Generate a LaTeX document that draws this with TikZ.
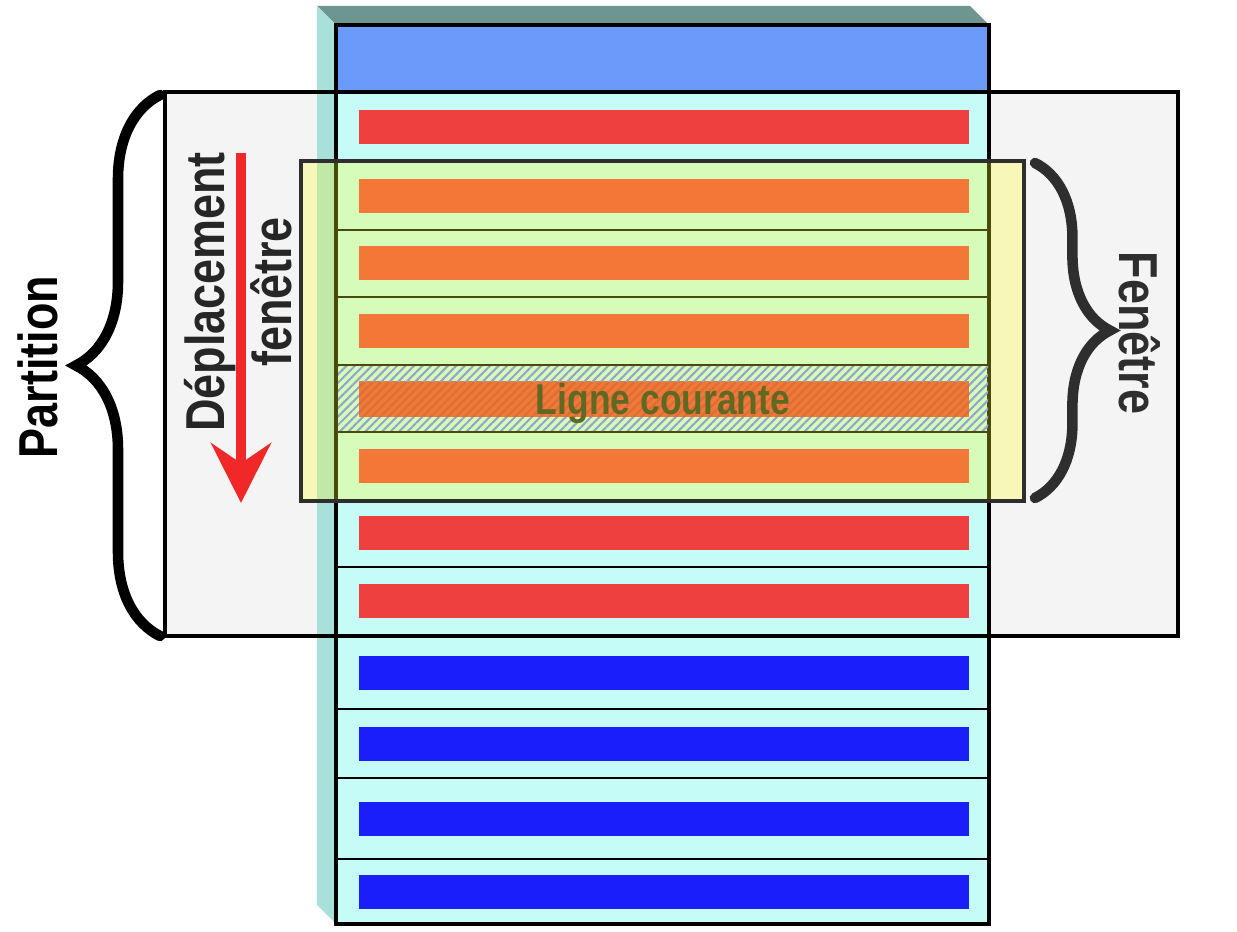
\documentclass[tikz,border=0pt]{standalone}
\usepackage{fontspec}
\setmainfont{Liberation Sans}
\newfontfamily\narrowsf[FakeStretch=0.82]{Liberation Sans}
\usetikzlibrary{arrows.meta,decorations.pathreplacing,patterns.meta}
\definecolor{sidecol}{RGB}{168,224,218}
\definecolor{topcol}{RGB}{110,150,144}
\definecolor{rowcol}{RGB}{198,252,247}
\definecolor{headcol}{RGB}{106,154,250}
\definecolor{redbar}{RGB}{239,64,64}
\definecolor{bluebar}{RGB}{26,30,250}
\definecolor{partcol}{RGB}{244,244,244}
\definecolor{wincol}{RGB}{255,255,36}
\definecolor{winedge}{RGB}{46,46,46}
\definecolor{orangebar}{RGB}{240,120,56}
\definecolor{hatchcol}{RGB}{146,166,200}
\definecolor{curtext}{RGB}{95,105,35}
\definecolor{arrowred}{RGB}{240,40,40}
\begin{document}
\begin{tikzpicture}[x=0.1mm,y=-0.1mm,
  biglabel/.style={font=\narrowsf\bfseries\fontsize{15.6}{19}\selectfont},
  bracket/.style={decorate,line width=3pt,line cap=round,decoration={brace,amplitude=#1}},
  hatching/.style={pattern={Lines[angle=45,distance=1.7pt,line width=0.6pt]},pattern color=#1}]
  \useasboundingbox (0,0) rectangle (1237,932);
  % partition background
  \fill[partcol] (165,92) rectangle (1178,636);
  % 3d faces of the table
  \fill[topcol] (317,6) -- (970,6) -- (989,25) -- (336,25) -- cycle;
  \fill[sidecol] (317,6) -- (336,25) -- (336,924) -- (317,905) -- cycle;
  % rows and bars
  \fill[rowcol] (336,92) rectangle (989,924);
  \foreach \t/\b/\c in {92/162/redbar,162/230/redbar,230/297/redbar,297/365/redbar,
    365/432/redbar,432/500/redbar,500/567/redbar,567/636/redbar,
    636/709/bluebar,709/778/bluebar,778/859/bluebar,859/924/bluebar}{
    \fill[\c] (359,{(\t+\b)/2-17}) rectangle (969,{(\t+\b)/2+17});
    \draw[line width=0.55pt] (336,\b) -- (989,\b);
  }
  \filldraw[fill=headcol,line width=1.1pt] (336,25) rectangle (989,92);
  \draw[line width=1.1pt] (336,25) rectangle (989,924);
  \draw[line width=1.1pt] (165,92) rectangle (1178,636);
  % window
  \draw[winedge,line width=1.2pt,fill=wincol,fill opacity=0.29] (301,161) rectangle (1024,501);
  % current line
  \fill[hatching=hatchcol] (338,367) rectangle (988,431);
  \fill[orangebar] (359,383) rectangle (969,417);
  \fill[hatching=orangebar!92!black] (359,383) rectangle (969,417);
  \node[font=\narrowsf\bfseries\fontsize{12.3}{14}\selectfont,text=curtext,anchor=base] (curline) at (663,415) {Ligne courante};
  % braces and labels
  \draw[bracket=23.9pt] (160,636) -- (160,95);
  \draw[winedge,bracket=21.3pt] (1035,163) -- (1035,498);
  \node[biglabel,rotate=90] (partlbl) at (38,367) {Partition};
  \node[biglabel,rotate=-90,text=winedge] (winlbl) at (1140,333) {Fenêtre};
  \node[biglabel,rotate=90,align=center,text=black!85] (movelbl) at (238,292) {Déplacement\\fenêtre};
  % moving arrow
  \coordinate (movetop) at (241,153);
  \coordinate (movebot) at (241,503);
  \draw[arrowred,line width=2.85pt,-{Stealth[length=17pt,width=17pt,inset=5.7pt]}] (movetop) -- (movebot);
\end{tikzpicture}
\end{document}
